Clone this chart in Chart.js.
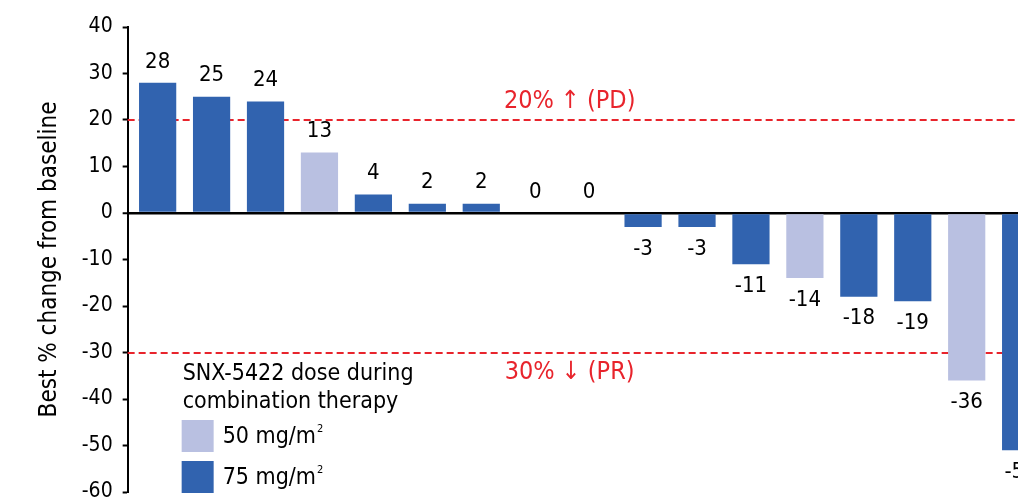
<!DOCTYPE html>
<html><head><meta charset="utf-8">
<script src="https://cdn.jsdelivr.net/npm/chart.js@4.4.0/dist/chart.umd.min.js"></script>
<style>
html,body{margin:0;padding:0;overflow:hidden;background:#fff;width:1018px;height:500px}
#wrap{position:absolute;left:0;top:0;width:1060px;height:520px}
</style></head><body>
<div id="wrap"><canvas id="c"></canvas></div>
<script>
// ---- data ----
const patients = ['P1','P2','P3','P4','P5','P6','P7','P8','P9','P10','P11','P12','P13','P14','P15','P16','P17'];
const bestChange = [28, 25, 24, 13, 4, 2, 2, 0, 0, -3, -3, -11, -14, -18, -19, -36, -51];
const doseGroup = ['75','75','75','50','75','75','75','75','75','75','75','75','50','75','75','50','75'];
const yTicks = [40, 30, 20, 10, 0, -10, -20, -30, -40, -50, -60];
const thresholds = [20, -30];
const thresholdLabels = ['20% \u2191 (PD)', '30% \u2193 (PR)'];
const legendTitle = ['SNX-5422 dose during', 'combination therapy'];
const doseNames = ['50', '75'];
const doseLabels = ['50 mg/m', '75 mg/m'];
const yTitle = 'Best % change from baseline';

// ---- styles ----
const COLORS = {'50': '#B9C0E1', '75': '#3163AF'};
const RED = '#E8242C';
const FONT = '"DejaVu Sans Condensed", "DejaVu Sans", sans-serif';

const points = bestChange.map((v, i) => ({x: i, y: v}));

const overlay = {
  id: 'overlay',
  beforeDatasetsDraw(chart) {
    const {ctx, chartArea, scales} = chart;
    ctx.save();
    ctx.strokeStyle = RED;
    ctx.lineWidth = 2;
    ctx.setLineDash([7, 4]);
    thresholds.forEach(t => {
      const y = Math.round(scales.y.getPixelForValue(t));
      ctx.beginPath();
      ctx.moveTo(chartArea.left, y);
      ctx.lineTo(chartArea.right, y);
      ctx.stroke();
    });
    ctx.restore();
  },
  afterDatasetsDraw(chart) {
    const {ctx, chartArea, scales} = chart;
    ctx.save();
    // value labels
    ctx.font = '22px ' + FONT;
    ctx.fillStyle = '#000';
    ctx.textAlign = 'center';
    ctx.textBaseline = 'middle';
    const meta = chart.getDatasetMeta(0);
    meta.data.forEach((bar, i) => {
      const v = bestChange[i];
      const y = v < 0 ? bar.y + 22 : bar.y - 21;
      ctx.fillText(String(v), bar.x, y);
    });
    // threshold labels
    ctx.fillStyle = RED;
    ctx.font = '25px ' + FONT;
    const cx = chartArea.left + 442;
    ctx.fillText(thresholdLabels[0], cx, scales.y.getPixelForValue(thresholds[0]) - 19);
    ctx.fillText(thresholdLabels[1], cx, scales.y.getPixelForValue(thresholds[1]) + 20);
    // legend
    const lx = chartArea.left + 54;
    ctx.fillStyle = '#000';
    ctx.textAlign = 'left';
    ctx.font = '23px ' + FONT;
    ctx.fillText(legendTitle[0], lx + 1, 374);
    ctx.fillText(legendTitle[1], lx + 1, 402);
    doseNames.forEach((d, k) => {
      const top = 420 + k * 41;
      ctx.fillStyle = COLORS[d];
      ctx.fillRect(lx, top, 32, 32);
      ctx.fillStyle = '#000';
      ctx.font = '23px ' + FONT;
      ctx.fillText(doseLabels[k], lx + 41, top + 17);
      const w = ctx.measureText(doseLabels[k]).width;
      ctx.font = '11px ' + FONT;
      ctx.fillText('2', lx + 42 + w, top + 9);
    });
    ctx.restore();
  }
};

new Chart(document.getElementById('c'), {
  type: 'bar',
  data: {
    labels: patients,
    datasets: [{
      data: points,
      backgroundColor: doseGroup.map(d => COLORS[d]),
      borderWidth: 0,
      barPercentage: 0.69,
      categoryPercentage: 1.0
    }]
  },
  options: {
    responsive: true,
    maintainAspectRatio: false,
    animation: false,
    events: [],
    layout: {padding: {left: 31, top: 27, right: 7, bottom: 28}},
    plugins: {legend: {display: false}, tooltip: {enabled: false}},
    scales: {
      x: {
        type: 'linear',
        offset: false,
        min: -0.556,
        max: 16.6,
        display: false
      },
      y: {
        min: -60,
        max: 40,
        afterBuildTicks: (s) => { s.ticks = yTicks.map(v => ({value: v})); },
        ticks: {color: '#000', font: {family: FONT, size: 21}, padding: 10},
        grid: {
          color: c => (c.tick && c.tick.value === 0) ? '#000' : 'rgba(0,0,0,0)',
          lineWidth: c => (c.tick && c.tick.value === 0) ? 2.5 : 1,
          tickColor: '#000',
          tickLength: 5,
          tickWidth: 2
        },
        border: {display: true, color: '#000', width: 2},
        title: {display: true, text: yTitle, color: '#000', font: {family: FONT, size: 24}, padding: {top: 4, bottom: 8}}
      }
    }
  },
  plugins: [overlay]
});
</script>
</body></html>
